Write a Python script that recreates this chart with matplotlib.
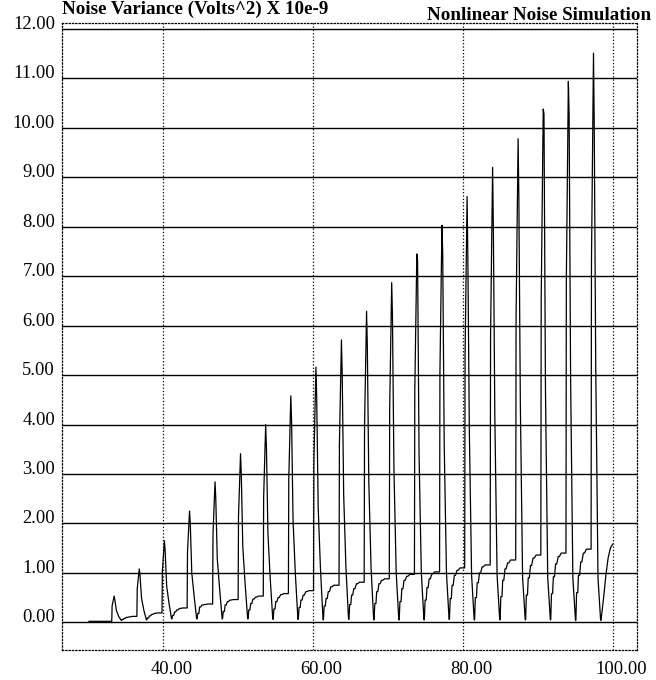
import matplotlib.pyplot as plt
from matplotlib.transforms import ScaledTranslation

# spike positions and heights over the sweep
peak_x = [33.55, 36.9, 40.25, 43.6, 47.0, 50.4, 53.75, 57.1, 60.45, 63.85,
          67.2, 70.55, 73.9, 77.25, 80.6, 84.0, 87.4, 90.75, 94.1, 97.45]
peak_y = [0.53, 1.08, 1.65, 2.25, 2.84, 3.41, 4.00, 4.58, 5.16, 5.71,
          6.29, 6.87, 7.45, 8.03, 8.61, 9.20, 9.78, 10.38, 10.94, 11.51]
# kink on the rising edge, then shoulder, mid and knee on the falling edge
left_y = [0.33, 0.68, 1.04, 1.42, 1.79, 2.15, 2.52, 2.89, 3.27, 3.6,
          3.96, 4.33, 4.7, 5.06, 5.42, 5.8, 6.16, 6.54, 6.9, 7.26]
shoulder_y = [0.45, 0.95, 1.45, 2.0, 2.5, 3.0, 3.55, 4.1, 4.58, 5.05,
              5.6, 6.2, 7.32, 7.46, 7.39, 8.0, 8.6, 10.28, 10.28, 10.0]
mid_y = [0.24, 0.49, 0.74, 1.0, 1.28, 1.53, 1.8, 2.06, 2.32, 2.57,
         2.83, 3.09, 3.35, 3.6, 3.87, 4.14, 4.4, 4.67, 4.92, 5.15]
knee_y = [0.12, 0.25, 0.4, 0.55, 0.7, 0.8, 0.9, 1.0, 1.1, 1.1,
          1.1, 1.0, 1.0, 1.0, 0.95, 0.95, 0.9, 0.9, 0.9, 0.9]
trough_y = [0.04, 0.05, 0.07, 0.07, 0.07, 0.07, 0.06, 0.06, 0.05, 0.06,
            0.05, 0.05, 0.05, 0.06, 0.05, 0.05, 0.05, 0.05, 0.04, 0.04]
# levels the variance climbs back through between spikes
stairs = [
    [0.06, 0.08, 0.10, 0.11, 0.12],
    [0.09, 0.13, 0.16, 0.18, 0.19],
    [0.14, 0.21, 0.25, 0.28, 0.29],
    [0.18, 0.31, 0.35, 0.36, 0.37],
    [0.22, 0.35, 0.42, 0.45, 0.46],
    [0.25, 0.38, 0.47, 0.51, 0.53],
    [0.27, 0.42, 0.50, 0.56, 0.58],
    [0.30, 0.45, 0.55, 0.62, 0.64],
    [0.33, 0.48, 0.62, 0.72, 0.75],
    [0.36, 0.55, 0.68, 0.78, 0.81],
    [0.38, 0.62, 0.78, 0.85, 0.88],
    [0.42, 0.68, 0.85, 0.93, 0.97],
    [0.45, 0.70, 0.88, 0.98, 1.02],
    [0.48, 0.75, 0.95, 1.05, 1.10],
    [0.50, 0.80, 1.00, 1.12, 1.16],
    [0.52, 0.85, 1.08, 1.20, 1.26],
    [0.55, 0.90, 1.15, 1.30, 1.36],
    [0.58, 0.92, 1.18, 1.33, 1.40],
    [0.60, 0.95, 1.22, 1.40, 1.48],
]
stair_dx = [1.1, 1.35, 1.65, 2.0, 2.4]
tail_x = [98.8, 99.1, 99.4, 99.7, 100.0]
tail_y = [0.50, 0.95, 1.30, 1.50, 1.58]
start_x, start_y = 30.2, 0.02

xs = [start_x]
ys = [start_y]
for k in range(len(peak_x)):
    p = peak_x[k]
    base = ys[-1]
    xs += [p - 0.32, p - 0.27, p, p + 0.1, p + 0.3, p + 0.6, p + 0.95, p + 1.0]
    ys += [base, left_y[k], peak_y[k], shoulder_y[k], mid_y[k], knee_y[k],
           trough_y[k], trough_y[k]]
    if k < len(stairs):
        for dx, lev in zip(stair_dx, stairs[k]):
            xs += [p + dx, p + dx + 0.15]
            ys += [lev, lev]
xs += tail_x
ys += tail_y

serif = ['Liberation Serif', 'DejaVu Serif']
fig = plt.figure(figsize=(6.56, 6.80), dpi=100)
ax = fig.add_axes([62 / 656, 30 / 680, 575 / 656, 627 / 680])

ax.plot(xs, ys, color='black', lw=0.9)

ax.set_xlim(26.6, 103.25)
ax.set_ylim(-0.56, 12.12)
ax.set_yticks(range(13))
ax.set_yticklabels([f'{v:.2f}' for v in range(13)], family=serif, fontsize=13.3)
ax.set_xticks([40, 60, 80, 100])
ax.set_xticklabels([f'{v:.2f}' for v in [40, 60, 80, 100]], family=serif, fontsize=13.3)
ax.tick_params(length=0)
ax.tick_params(axis='y', pad=5)
ax.tick_params(axis='x', pad=8)
for lab in ax.get_yticklabels():
    lab.set_va('baseline')
for lab in ax.get_xticklabels():
    lab.set_transform(lab.get_transform() + ScaledTranslation(0.09, 0, fig.dpi_scale_trans))

ax.yaxis.grid(True, ls='-', color='black', lw=1.0)
ax.xaxis.grid(True, ls=':', color='black', lw=0.9)
ax.set_axisbelow(True)
for s in ax.spines.values():
    s.set_linestyle(':')
    s.set_linewidth(0.9)

fig.text(62 / 656, 1 - 9 / 680, 'Noise Variance (Volts^2) X 10e-9', ha='left', va='center',
         family=serif, weight='bold', fontsize=13.7)
fig.text(651 / 656, 1 - 16 / 680, 'Nonlinear Noise Simulation', ha='right', va='center',
         family=serif, weight='bold', fontsize=13.7)

fig.savefig('out.png', dpi=100)
